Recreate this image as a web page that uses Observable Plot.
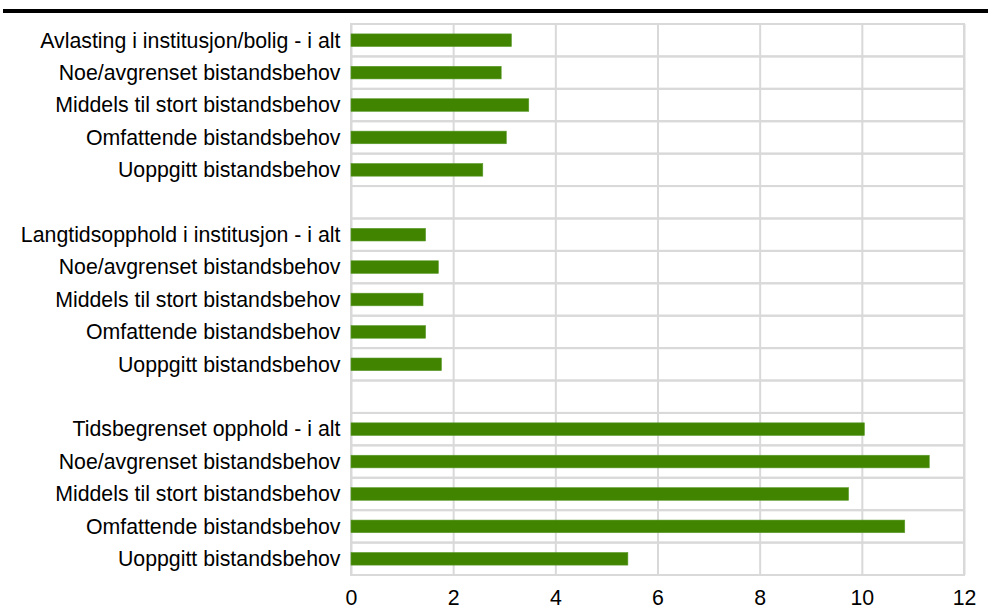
<!DOCTYPE html>
<html>
<head>
<meta charset="utf-8">
<script src="https://cdn.jsdelivr.net/npm/d3@7"></script>
<script src="https://cdn.jsdelivr.net/npm/@observablehq/plot@0.6"></script>
<style>
  html, body { margin: 0; padding: 0; background: #fff; }
  #wrap { position: relative; width: 988px; height: 610px; overflow: hidden; }
  #rule { position: absolute; top: 9px; left: 3px; right: 0; height: 3.5px; background: #000; }
  #chart { position: absolute; top: 0; left: 0; }
</style>
</head>
<body>
<div id="wrap">
  <div id="rule"></div>
  <div id="chart"></div>
</div>
<script>
const categories = [
  "Avlasting i institusjon/bolig - i alt",
  "Noe/avgrenset bistandsbehov",
  "Middels til stort bistandsbehov",
  "Omfattende bistandsbehov",
  "Uoppgitt bistandsbehov",
  "",
  "Langtidsopphold i institusjon - i alt",
  "Noe/avgrenset bistandsbehov",
  "Middels til stort bistandsbehov",
  "Omfattende bistandsbehov",
  "Uoppgitt bistandsbehov",
  "",
  "Tidsbegrenset opphold - i alt",
  "Noe/avgrenset bistandsbehov",
  "Middels til stort bistandsbehov",
  "Omfattende bistandsbehov",
  "Uoppgitt bistandsbehov"
];
const values = [3.14, 2.94, 3.48, 3.04, 2.58, null, 1.46, 1.71, 1.41, 1.46, 1.77, null, 10.05, 11.32, 9.74, 10.84, 5.42];
const xTicks = [0, 2, 4, 6, 8, 10, 12];

const rows = categories.map((c, i) => ({key: i, label: c, value: values[i]}));
const bars = rows.filter(d => d.value != null);

const chart = Plot.plot({
  width: 988,
  height: 610,
  marginTop: 24,
  marginBottom: 35,
  marginLeft: 351,
  marginRight: 24,
  style: {fontFamily: "Liberation Sans, Arial, sans-serif", fontSize: "21.3px", color: "#000", background: "transparent"},
  x: {domain: [0, 12], ticks: xTicks, label: null},
  y: {domain: rows.map(d => d.key), padding: 0, round: false, label: null},
  marks: [
    Plot.barX(rows, {x1: 0, x2: 12, y: "key", fill: "none", stroke: "#d9d9d9", strokeWidth: 2}),
    Plot.ruleX(xTicks, {stroke: "#d9d9d9", strokeWidth: 2}),
    Plot.barX(bars, {x: "value", y: "key", fill: "#408400", stroke: "#5a9a2a", strokeWidth: 0.6, insetTop: 9.9, insetBottom: 9.9}),
    Plot.axisX({ticks: xTicks, tickSize: 0, tickPadding: 14, fontSize: "21.3px", label: null}),
    Plot.axisY({tickSize: 0, tickPadding: 11, fontSize: "21.3px", label: null, tickFormat: k => categories[k]})
  ]
});
document.getElementById("chart").appendChild(chart);
</script>
</body>
</html>
